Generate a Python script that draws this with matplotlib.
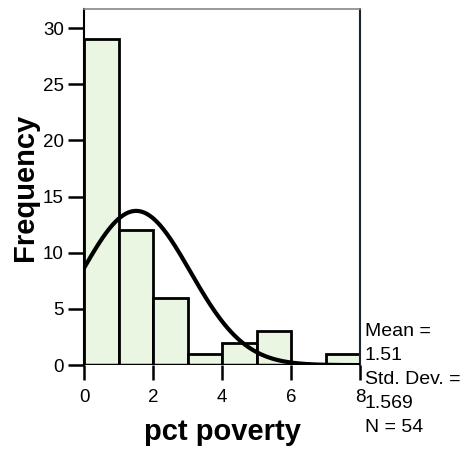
import numpy as np
from matplotlib import pyplot as plt

plt.rcParams['font.family'] = ['Liberation Sans', 'DejaVu Sans']

# histogram of pct poverty, bin width 1
bin_left = [0, 1, 2, 3, 4, 5, 6, 7]
counts = [29, 12, 6, 1, 2, 3, 0, 1]
mean = 1.51
std_dev = 1.569
n = 54

fig = plt.figure(figsize=(4.72, 4.53), dpi=100)
ax = fig.add_axes([0.178, 0.194, 0.585, 0.786])

ax.bar(bin_left, counts, width=1, align='edge', color='#eaf6e2',
       edgecolor='black', linewidth=2, zorder=2)

# fitted normal curve scaled to counts
xs = np.linspace(0, 8, 300)
ys = n * 1 / (std_dev * np.sqrt(2 * np.pi)) * np.exp(-0.5 * ((xs - mean) / std_dev) ** 2)
ax.plot(xs, ys, color='black', linewidth=3, zorder=3)

ax.axhline(0, color='black', linewidth=2.5, zorder=4)

ax.set_xlim(0, 8)
ax.set_ylim(0, 31.7)
ax.set_xticks([0, 2, 4, 6, 8])
ax.set_yticks([0, 5, 10, 15, 20, 25, 30])
ax.tick_params(axis='both', labelsize=13.5, width=1.8, length=11.5, color='black')
ax.tick_params(axis='x', length=11, pad=6)
ax.tick_params(axis='y', pad=3)

ax.spines['top'].set_color('#888888')
ax.spines['top'].set_linewidth(1.2)
ax.spines['right'].set_color('#1c2333')
ax.spines['right'].set_linewidth(1.5)
ax.spines['left'].set_linewidth(1.5)
ax.spines['bottom'].set_visible(False)

ax.set_xlabel('pct poverty', fontsize=21, fontweight='bold', labelpad=9)
ax.set_ylabel('Frequency', fontsize=21, fontweight='bold', labelpad=3)

fig.text(0.773, 0.287, 'Mean =\n1.51\nStd. Dev. =\n1.569\nN = 54',
         fontsize=14, va='top', ha='left', linespacing=1.53)

fig.savefig('out.png', dpi=100)
